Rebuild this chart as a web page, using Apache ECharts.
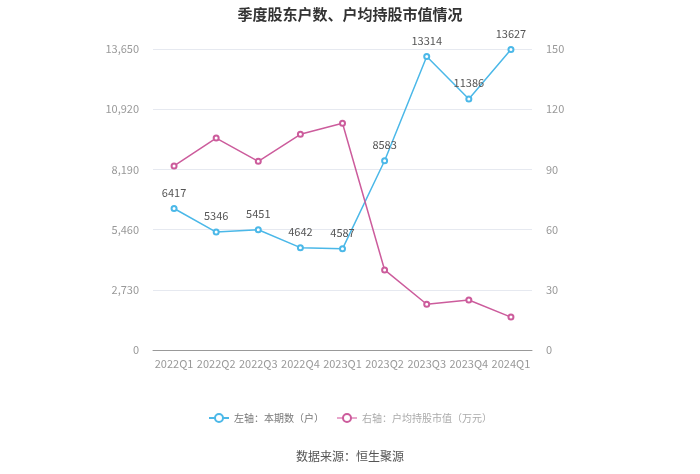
<!DOCTYPE html>
<html><head><meta charset="utf-8">
<script src="https://cdn.jsdelivr.net/npm/echarts@6/dist/echarts.min.js"></script>
<style>html,body{margin:0;padding:0;background:#fff}#c{width:700px;height:474px}</style>
</head><body><div id="c"></div>
<script>
const categories = ['2022Q1','2022Q2','2022Q3','2022Q4','2023Q1','2023Q2','2023Q3','2023Q4','2024Q1'];
const holders = [6417,5346,5451,4642,4587,8583,13314,11386,13627];
const avgValue = [91.7,105.6,94.0,107.5,113.0,39.9,22.8,24.9,16.4];
const leftTicks = {min:0,max:13650,interval:2730};
const rightTicks = {min:0,max:150,interval:30};
const fontFam = '"Microsoft YaHei","Noto Sans CJK SC",sans-serif';
const chart = echarts.init(document.getElementById('c'));
chart.setOption({
  animation:false,
  title:{text:'季度股东户数、户均持股市值情况',left:'center',top:2,textStyle:{fontSize:15,fontWeight:'bold',color:'#333',fontFamily:fontFam}},
  grid:{left:153,right:168,top:49,bottom:124},
  legend:{top:408,left:'center',itemWidth:20,itemHeight:10,itemGap:12,textStyle:{color:'#777',fontSize:10,fontFamily:fontFam},
    data:[
      {name:'左轴：本期数（户）'},
      {name:'右轴：户均持股市值（万元）',itemStyle:{borderColor:'#e8a6cc'},lineStyle:{color:'#e8a6cc'},textStyle:{color:'#aaa'}}
    ]},
  graphic:[{type:'text',left:'center',top:450,style:{text:'数据来源：恒生聚源',fill:'#555',fontSize:12,fontFamily:fontFam}}],
  xAxis:{type:'category',data:categories,boundaryGap:true,
    axisLine:{lineStyle:{color:'#999'}},axisTick:{alignWithLabel:true,lineStyle:{color:'#999'}},
    axisLabel:{color:'#999',fontSize:11,margin:8,interval:0,fontFamily:fontFam}},
  yAxis:[
    {type:'value',min:leftTicks.min,max:leftTicks.max,interval:leftTicks.interval,
     axisLine:{show:false},axisTick:{show:false},
     axisLabel:{color:'#999',fontSize:11,margin:14,fontFamily:fontFam,formatter:v=>v.toLocaleString('en-US')},
     splitLine:{lineStyle:{color:'#e6e9f0'}}},
    {type:'value',min:rightTicks.min,max:rightTicks.max,interval:rightTicks.interval,
     axisLine:{show:false},axisTick:{show:false},
     axisLabel:{color:'#999',fontSize:11,margin:14,fontFamily:fontFam},
     splitLine:{show:false}}
  ],
  series:[
    {name:'左轴：本期数（户）',type:'line',yAxisIndex:0,data:holders,symbol:'emptyCircle',symbolSize:5,
     itemStyle:{color:'#4bb8e8'},lineStyle:{width:1.5,color:'#4bb8e8'},
     label:{show:true,position:'top',color:'#555',fontSize:11,distance:7,fontFamily:fontFam}},
    {name:'右轴：户均持股市值（万元）',type:'line',yAxisIndex:1,data:avgValue,symbol:'emptyCircle',symbolSize:5,
     itemStyle:{color:'#cc5c9c'},lineStyle:{width:1.5,color:'#cc5c9c'}}
  ]
});
</script></body></html>
